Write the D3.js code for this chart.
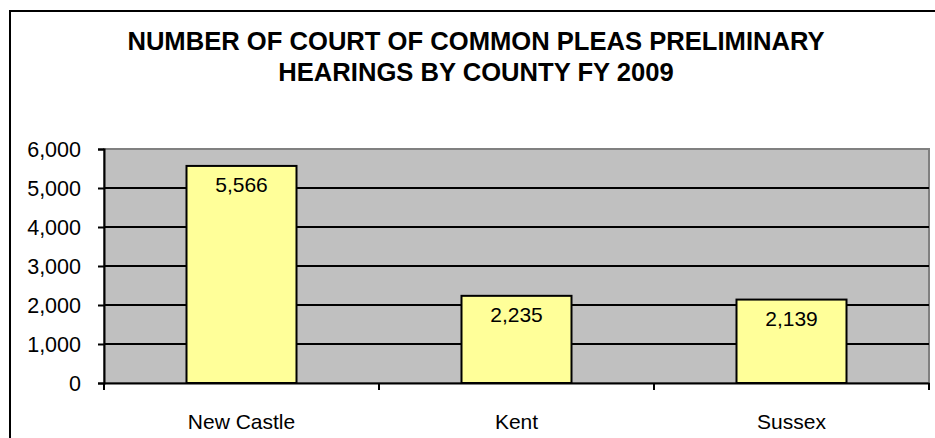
<!DOCTYPE html>
<html>
<head>
<meta charset="utf-8">
<script src="https://cdn.jsdelivr.net/npm/d3@7"></script>
<style>
  html, body { margin: 0; padding: 0; background: #fff; }
  svg { display: block; }
</style>
</head>
<body>
<svg id="chart" width="935" height="438"></svg>
<script>
const titleLines = ["NUMBER OF COURT OF COMMON PLEAS PRELIMINARY", "HEARINGS BY COUNTY FY 2009"];
const categories = ["New Castle", "Kent", "Sussex"];
const values = [5566, 2235, 2139];
const yTicks = [0, 1000, 2000, 3000, 4000, 5000, 6000];

const svg = d3.select("#chart");
const W = 935, H = 438;
const plot = { left: 104, right: 929, top: 149, bottom: 383 };
const font = "'Liberation Sans', Arial, sans-serif";

// outer chart border (extends past the bottom/right edge)
svg.append("rect")
  .attr("x", 10).attr("y", 11)
  .attr("width", W + 20).attr("height", H + 20)
  .attr("fill", "#fff").attr("stroke", "#000").attr("stroke-width", 2);

// title
const title = svg.append("text")
  .attr("text-anchor", "middle")
  .attr("font-family", font).attr("font-weight", "bold")
  .attr("font-size", 25.6).attr("fill", "#000");
titleLines.forEach((t, i) => {
  title.append("tspan").attr("x", 476).attr("y", 50 + i * 31).text(t);
});

const x = d3.scaleBand().domain(categories)
  .range([plot.left, plot.right]).paddingInner(0.6).paddingOuter(0.3);
const y = d3.scaleLinear().domain([0, 6000]).range([plot.bottom, plot.top]);

// plot area
svg.append("rect")
  .attr("x", plot.left).attr("y", plot.top)
  .attr("width", plot.right - plot.left).attr("height", plot.bottom - plot.top)
  .attr("fill", "#C0C0C0").attr("stroke", "#808080").attr("stroke-width", 2);

// gridlines
svg.append("g").selectAll("line")
  .data(yTicks.filter(d => d > 0 && d < 6000))
  .join("line")
  .attr("x1", plot.left).attr("x2", plot.right)
  .attr("y1", d => y(d)).attr("y2", d => y(d))
  .attr("stroke", "#000").attr("stroke-width", 2);

// bars
svg.append("g").selectAll("rect")
  .data(values)
  .join("rect")
  .attr("x", (d, i) => x(categories[i]))
  .attr("y", d => y(d))
  .attr("width", x.bandwidth())
  .attr("height", d => y(0) - y(d))
  .attr("fill", "#FFFF99").attr("stroke", "#000").attr("stroke-width", 2);

// data labels
svg.append("g").selectAll("text")
  .data(values)
  .join("text")
  .attr("x", (d, i) => x(categories[i]) + x.bandwidth() / 2)
  .attr("y", d => y(d) + 26)
  .attr("text-anchor", "middle")
  .attr("font-family", font).attr("font-size", 21).attr("fill", "#000")
  .text(d => d3.format(",")(d));

// y axis
const yAxis = svg.append("g")
  .attr("transform", `translate(${plot.left},0)`)
  .call(d3.axisLeft(y).tickValues(yTicks).tickFormat(d3.format(",")).tickSize(6).tickPadding(17));
yAxis.select(".domain").attr("stroke", "#000").attr("stroke-width", 2);
yAxis.selectAll(".tick line").attr("stroke", "#000").attr("stroke-width", 2);
yAxis.selectAll(".tick text").attr("font-family", font).attr("font-size", 21.5).attr("fill", "#000").attr("dy", "0.36em");

// x axis
const xAxis = svg.append("g")
  .attr("transform", `translate(0,${plot.bottom})`)
  .call(d3.axisBottom(x).tickSize(0).tickPadding(0));
xAxis.select(".domain").attr("stroke", "#000").attr("stroke-width", 2);
xAxis.selectAll(".tick text")
  .attr("font-family", font).attr("font-size", 21).attr("fill", "#000")
  .attr("dy", null).attr("y", 46);
// category boundary ticks
const boundaries = [plot.left].concat(categories.map(c => x(c) + x.bandwidth() + x.step() * x.paddingInner() / 2));
boundaries[boundaries.length - 1] = plot.right;
xAxis.append("g").selectAll("line")
  .data(boundaries)
  .join("line")
  .attr("x1", d => d).attr("x2", d => d)
  .attr("y1", 0).attr("y2", 7)
  .attr("stroke", "#000").attr("stroke-width", 2);
</script>
</body>
</html>
